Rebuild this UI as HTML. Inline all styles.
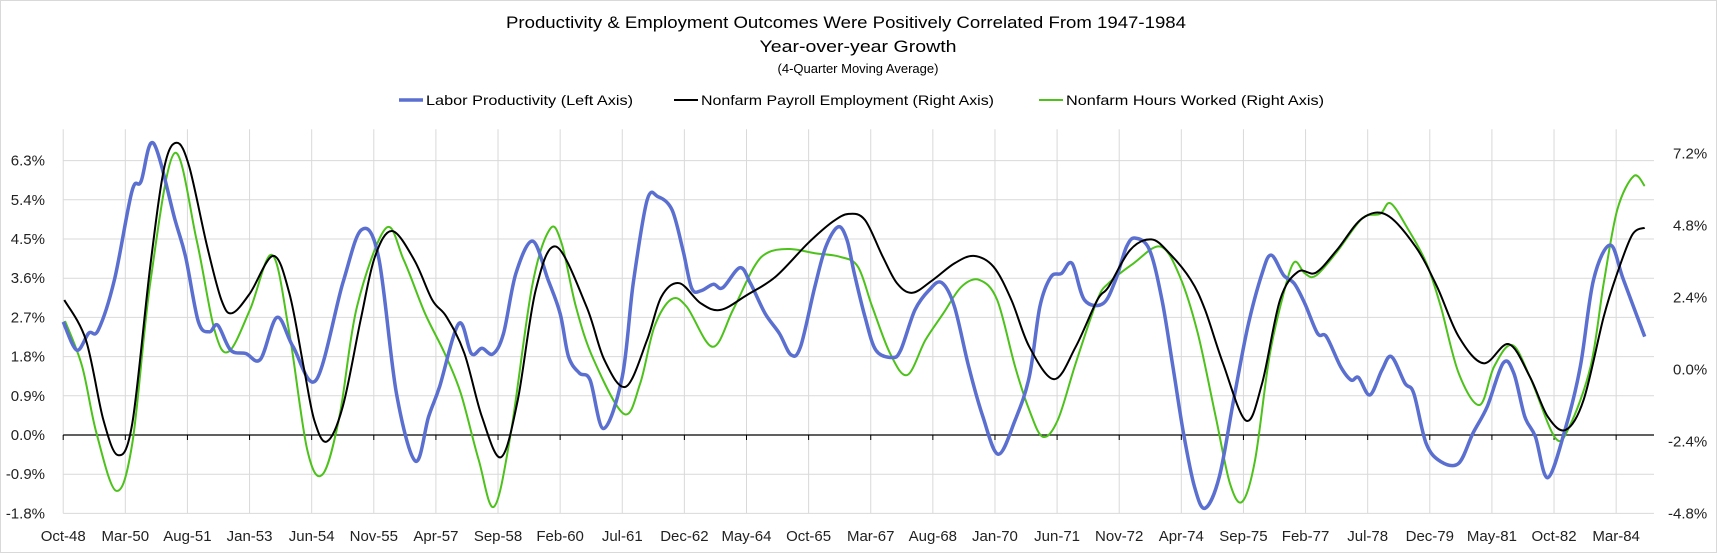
<!DOCTYPE html>
<html><head><meta charset="utf-8"><style>
body{margin:0;background:#fff;}
svg{display:block;font-family:"Liberation Sans",sans-serif;}
</style></head><body>
<svg id="chart" width="1717" height="553" viewBox="0 0 1717 553" xmlns="http://www.w3.org/2000/svg">
<rect x="0.5" y="0.5" width="1716" height="552" fill="#fff" stroke="#d9d9d9"/>
<text x="846" y="28" text-anchor="middle" font-size="17" fill="#000" textLength="680" lengthAdjust="spacingAndGlyphs">Productivity &amp; Employment Outcomes Were Positively Correlated From 1947-1984</text>
<text x="858" y="52" text-anchor="middle" font-size="17" fill="#000" textLength="197" lengthAdjust="spacingAndGlyphs">Year-over-year Growth</text>
<text x="858" y="73" text-anchor="middle" font-size="13" fill="#000">(4-Quarter Moving Average)</text>
<g font-size="14" fill="#000">
<g><line x1="399" y1="100" x2="423" y2="100" stroke="#5a6fcf" stroke-width="3.5"/><text x="426" y="105" textLength="207" lengthAdjust="spacingAndGlyphs">Labor Productivity (Left Axis)</text></g>
<g><line x1="674" y1="100" x2="698" y2="100" stroke="#000" stroke-width="2"/><text x="701" y="105" textLength="293" lengthAdjust="spacingAndGlyphs">Nonfarm Payroll Employment (Right Axis)</text></g>
<g><line x1="1039" y1="100" x2="1063" y2="100" stroke="#4cc21a" stroke-width="2"/><text x="1066" y="105" textLength="258" lengthAdjust="spacingAndGlyphs">Nonfarm Hours Worked (Right Axis)</text></g>
</g>
<g id="grid"></g>
<g id="axes"></g>
<g id="series"></g>
</svg>
<script>
const xTickLabels = ["Oct-48","Mar-50","Aug-51","Jan-53","Jun-54","Nov-55","Apr-57","Sep-58","Feb-60","Jul-61","Dec-62","May-64","Oct-65","Mar-67","Aug-68","Jan-70","Jun-71","Nov-72","Apr-74","Sep-75","Feb-77","Jul-78","Dec-79","May-81","Oct-82","Mar-84"];
const leftTicks = [-1.8,-0.9,0.0,0.9,1.8,2.7,3.6,4.5,5.4,6.3];
const rightTicks = [-4.8,-2.4,0.0,2.4,4.8,7.2];

const prodMonths = [0,3.7,7,9.6,14,18.8,21.3,24.7,30.6,33.5,37,40,42.3,45.8,50,54,58.5,62.9,69.2,76.5,81.6,86.3,91.2,96.4,100,103,108.3,111.7,114.6,117.6,120.5,123.9,128.5,132.7,136,138.3,141.3,144.2,147.9,153,156,159.8,162.8,166.6,169.6,172,174.5,177.9,180.5,185.2,188.1,192.1,196,199.2,201.8,205.7,208.7,212.1,214.5,216.5,219.4,222.4,226.8,229.2,233.1,237,240.4,243.9,247.8,251.7,255.9,260.5,264.4,267.3,270.3,273.2,276.1,279.5,284.6,288,291,293.4,297.3,300.7,303.7,306.6,309.6,312.5,316.4,320.3,324.2,328.1,330.6,334,336.9,339.8,343.3,345.7,349.6,352.5,354.5,357.6,360.9,363.5,367.2,369.6,373,377,381.9,385.8,389.7,394.1,397,400,402.9,406.3,411.1,415.2,418.8,423.4,427,432.8];
const prodValues = [2.60,1.95,2.34,2.41,3.56,5.59,5.82,6.70,4.94,4.09,2.60,2.37,2.52,1.95,1.87,1.74,2.70,2.03,1.26,3.48,4.71,4.09,0.96,-0.60,0.42,1.11,2.56,1.87,1.99,1.86,2.33,3.71,4.45,3.56,2.79,1.80,1.42,1.26,0.15,1.34,3.48,5.39,5.47,5.17,4.25,3.37,3.31,3.46,3.38,3.84,3.48,2.79,2.33,1.84,2.03,3.40,4.32,4.78,4.48,3.71,2.72,1.95,1.78,1.95,2.87,3.33,3.50,2.95,1.57,0.42,-0.44,0.34,1.34,2.95,3.63,3.71,3.94,3.10,3.02,3.56,4.32,4.52,4.25,3.10,1.57,0.04,-1.19,-1.68,-0.96,0.80,2.49,3.71,4.13,3.67,3.48,3.02,2.33,2.26,1.57,1.26,1.32,0.92,1.49,1.80,1.19,0.96,-0.19,-0.61,-0.65,0.04,0.65,1.65,1.42,0.42,-0.04,-0.98,0.15,1.57,3.56,4.36,3.56,2.26];

const payMonths = [0.3,6.2,11,15,18.9,23.8,27.7,31.1,34.5,39.4,43.3,46.2,51.1,57.5,61.9,65.8,68.7,72.1,76.5,81.4,85.3,90,96.1,101,104.9,109.8,114.6,119.8,124.4,129.3,134.9,143.2,148.1,154,159.8,163.7,168.6,174.5,179.9,187.2,195,203.8,210.6,215,219.4,224.3,228.2,232.4,238,243.9,249.2,254.6,259.5,264.4,271.2,277.1,283,286.1,292,297.8,302.7,308.6,312.5,317.4,323.7,328.1,333,337.9,342.8,348.6,355.5,362.3,370.1,376,381.9,388.7,395.6,401.4,406.3,411.2,416.1,421.6,425.3,429.4,432.8];
const payValues = [2.31,0.98,-1.69,-2.86,-1.80,3.42,6.75,7.55,6.75,4.09,2.31,1.87,2.53,3.78,2.53,0.09,-1.69,-2.41,-1.25,1.64,3.75,4.61,3.64,2.31,1.75,0.53,-1.58,-2.93,-1.02,2.64,4.09,2.09,0.31,-0.58,0.98,2.42,2.87,2.20,1.98,2.48,3.09,4.20,4.92,5.18,4.98,3.75,2.87,2.55,2.98,3.53,3.78,3.42,2.31,0.75,-0.33,0.75,2.31,2.75,3.98,4.33,3.87,2.98,1.98,0.20,-1.71,-0.47,2.31,3.25,3.22,3.98,5.03,5.14,4.09,2.75,1.09,0.20,0.84,-0.25,-1.58,-2.02,-1.02,1.75,3.20,4.48,4.72];

const hoursMonths = [0.5,5.2,9.1,14.5,18.9,23.8,30.4,36.5,41.4,45.3,51.1,57.2,61.9,66.8,71,75.6,80.4,88.3,93.2,99,104.4,108.8,113.7,117.9,122.5,128.3,133.2,136.4,140.3,145.2,153.5,157.9,161.8,166.4,170.6,177.7,183.3,189.1,193,198.9,205.7,212.6,217.5,221.4,226.3,231,236,240.9,245.8,250.7,255.6,260.5,264.4,268.1,272.2,277.1,283,286.1,292.9,300.3,305.6,310.5,315.4,319.3,322.7,326.2,330.1,334,336.9,339.8,342.8,348.6,355.5,360.4,363.3,368.2,373.1,377,381.9,387.6,391.6,396.5,401.4,408.3,412.2,418,421.6,425.3,429.8,432.8];
const hoursValues = [1.61,0.09,-2.13,-4.05,-2.47,2.87,7.20,4.31,1.31,0.59,1.98,3.81,1.20,-2.69,-3.50,-1.58,2.09,4.70,3.64,1.87,0.53,-0.80,-3.02,-4.58,-2.13,2.75,4.67,4.20,2.09,0.31,-1.49,-0.47,1.42,2.33,2.09,0.75,1.98,3.42,3.90,4.01,3.87,3.75,3.42,2.09,0.53,-0.19,0.98,1.87,2.75,2.98,2.31,0.09,-1.36,-2.25,-1.69,0.20,2.31,2.87,3.53,4.09,3.09,1.20,-1.58,-3.80,-4.41,-3.02,0.42,2.53,3.57,3.20,3.12,3.92,5.03,5.18,5.53,4.64,3.53,2.09,-0.13,-1.19,0.09,0.81,-0.25,-2.28,-1.91,0.09,2.87,5.31,6.44,6.11];

const NS = "http://www.w3.org/2000/svg";
const X0 = 63.2, PXM = 3.654, TOP = 129.3, BOT = 513.3, RIGHT = 1654;
function xScale(m){ return X0 + m*PXM; }
function yLeft(v){ return 435 - v*(39.2/0.9); }
function yRight(v){ return 369.3 - v*30; }
function mk(tag, attrs, parent){ const e=document.createElementNS(NS,tag); for(const k in attrs) e.setAttribute(k,attrs[k]); parent.appendChild(e); return e; }

const grid=document.getElementById('grid'), axes=document.getElementById('axes'), series=document.getElementById('series');
leftTicks.forEach(v=>{
  if(v===0) return;
  const l=mk('line',{x1:X0,x2:RIGHT,y1:yLeft(v),y2:yLeft(v),stroke:'#d9d9d9','stroke-width':1},grid);
  
  
});
xTickLabels.forEach((lab,i)=>{
  const x=xScale(i*17);
  const g=mk('line',{x1:x,x2:x,y1:TOP,y2:BOT,stroke:'#d9d9d9','stroke-width':1},grid);
  
  
  const t=mk('line',{x1:x,x2:x,y1:yLeft(0),y2:yLeft(0)+5,stroke:'#000','stroke-width':1},axes);
  
  
  const tx=mk('text',{x:x,y:541,'text-anchor':'middle','font-size':15,fill:'#222'},axes);
  tx.textContent=lab;
  
  
});
const zl=mk('line',{x1:X0,x2:RIGHT,y1:yLeft(0),y2:yLeft(0),stroke:'#000','stroke-width':1.3},axes);


leftTicks.forEach(v=>{
  const t=mk('text',{x:45,y:yLeft(v)+5,'text-anchor':'end','font-size':15,fill:'#222'},axes);
  t.textContent=v.toFixed(1)+'%';
  
  
});
rightTicks.forEach(v=>{
  const t=mk('text',{x:v<0?1668:1673,y:yRight(v)+5,'text-anchor':'start','font-size':15,fill:'#222'},axes);
  t.textContent=v.toFixed(1)+'%';
  
  
});
function smoothPath(pts){
  let d='M'+pts[0][0].toFixed(1)+','+pts[0][1].toFixed(1);
  for(let i=0;i<pts.length-1;i++){
    const p0=pts[Math.max(0,i-1)],p1=pts[i],p2=pts[i+1],p3=pts[Math.min(pts.length-1,i+2)];
    const c1=[p1[0]+(p2[0]-p0[0])/6,p1[1]+(p2[1]-p0[1])/6];
    const c2=[p2[0]-(p3[0]-p1[0])/6,p2[1]-(p3[1]-p1[1])/6];
    d+='C'+c1[0].toFixed(1)+','+c1[1].toFixed(1)+' '+c2[0].toFixed(1)+','+c2[1].toFixed(1)+' '+p2[0].toFixed(1)+','+p2[1].toFixed(1);
  }
  return d;
}
const hp=mk('path',{d:smoothPath(hoursMonths.map((m,i)=>[xScale(m),yRight(hoursValues[i])])),fill:'none',stroke:'#4cc21a','stroke-width':2},series);


const bp=mk('path',{d:smoothPath(prodMonths.map((m,i)=>[xScale(m),yLeft(prodValues[i])])),fill:'none',stroke:'#5a6fcf','stroke-width':3.5,'stroke-linejoin':'round'},series);


const pp=mk('path',{d:smoothPath(payMonths.map((m,i)=>[xScale(m),yRight(payValues[i])])),fill:'none',stroke:'#000','stroke-width':2},series);


</script>
</body></html>
